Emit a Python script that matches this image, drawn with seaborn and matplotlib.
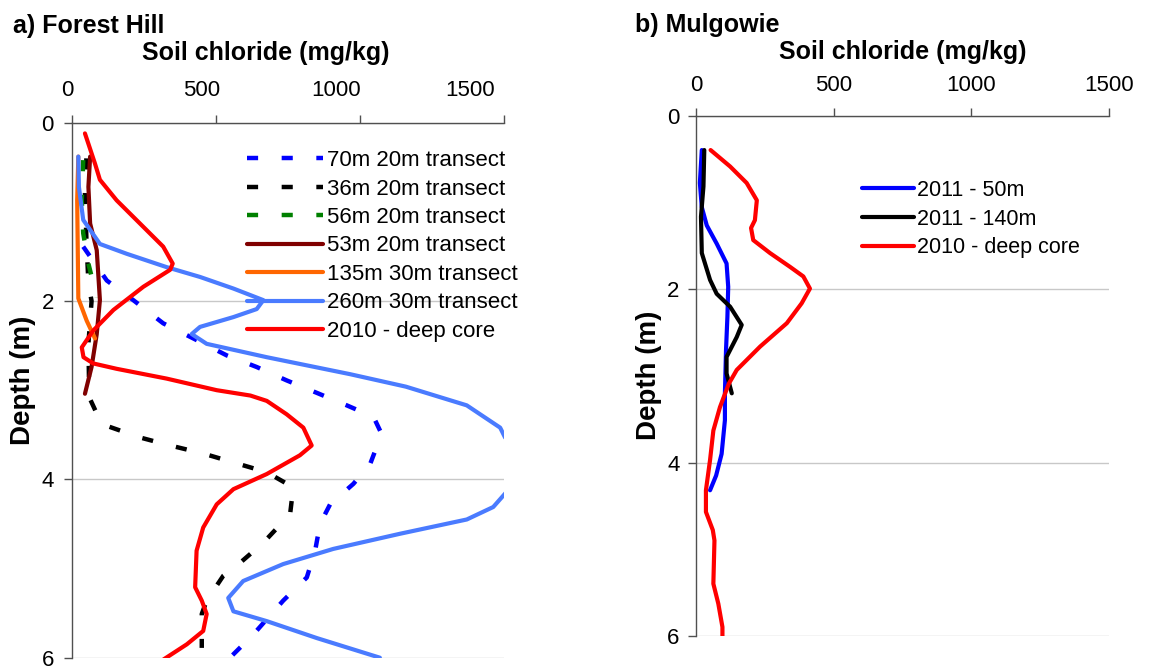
import numpy as np
import pandas as pd
import matplotlib.pyplot as plt
import seaborn as sns

sns.set_theme(style="white")
plt.rcParams['font.family'] = ['Liberation Sans', 'DejaVu Sans']
plt.rcParams['text.color'] = 'black'
plt.rcParams['xtick.color'] = 'black'
plt.rcParams['ytick.color'] = 'black'

# ---- a) Forest Hill: soil chloride (mg/kg) against depth (m) ----
fh_70m_depth = [1.39, 1.77, 1.99, 2.25, 2.42, 2.61, 2.74, 2.89, 3.03, 3.17, 3.30, 3.49, 3.83,
                4.05, 4.28, 4.50, 4.80, 5.10, 5.36, 5.74, 6.00]
fh_70m_cl = [39, 121, 213, 317, 422, 538, 642, 746, 851, 955, 1048, 1076, 1036,
             978, 897, 862, 845, 816, 734, 630, 549]

fh_36m_depth = [0.40, 0.79, 1.30, 1.80, 2.00, 2.48, 3.08, 3.38, 3.53, 3.62, 3.71, 3.81, 3.92,
                4.09, 4.39, 4.71, 4.97, 5.08, 5.36, 5.51, 5.89]
fh_36m_cl = [50, 45, 50, 57, 68, 57, 60, 103, 236, 341, 456, 561, 677,
             769, 758, 665, 572, 526, 468, 451, 451]

fh_56m_depth = [0.42, 0.87, 1.24, 1.58, 1.96]
fh_56m_cl = [39, 34, 39, 57, 86]

fh_53m_depth = [0.38, 0.72, 1.13, 1.43, 1.99, 2.37, 2.74, 3.04]
fh_53m_cl = [63, 57, 63, 86, 97, 86, 68, 45]

fh_135m_depth = [0.38, 0.87, 1.97, 2.22, 2.42]
fh_135m_cl = [22, 18, 22, 51, 80]

fh_260m_depth = [0.38, 0.72, 1.09, 1.36, 1.47, 1.62, 1.73, 1.86, 1.99, 2.09, 2.18, 2.29, 2.37,
                 2.48, 2.63, 2.82, 2.96, 3.17, 3.42, 3.53, 3.80, 4.16, 4.31, 4.45, 4.61, 4.78,
                 4.95, 5.14, 5.33, 5.48, 5.59, 5.78, 6.00]
fh_260m_cl = [22, 24, 39, 97, 190, 329, 445, 561, 665, 642, 561, 445, 416,
              468, 677, 966, 1160, 1372, 1488, 1505, 1600, 1505, 1464, 1372, 1140, 908,
              734, 595, 543, 561, 677, 851, 1070]

fh_2010_depth = [0.12, 0.46, 0.64, 0.87, 1.13, 1.39, 1.58, 1.65, 1.84, 2.10, 2.33, 2.52, 2.63,
                 2.70, 2.76, 2.87, 3.00, 3.06, 3.12, 3.27, 3.42, 3.62, 3.73, 3.94, 4.11, 4.28,
                 4.54, 4.80, 5.21, 5.36, 5.51, 5.70, 5.85, 6.02]
fh_2010_cl = [45, 80, 97, 155, 236, 317, 350, 341, 248, 144, 74, 34, 40,
              74, 155, 329, 503, 620, 677, 746, 804, 833, 792, 677, 561, 503,
              456, 433, 428, 451, 468, 456, 399, 318]

# ---- b) Mulgowie ----
mg_50m_depth = [0.39, 0.77, 1.05, 1.26, 1.47, 1.70, 1.97, 2.32, 2.70, 3.20, 3.51, 3.90, 4.15, 4.32]
mg_50m_cl = [20, 13, 20, 38, 74, 110, 116, 113, 108, 104, 104, 92, 72, 50]

mg_140m_depth = [0.39, 0.81, 1.16, 1.58, 1.89, 2.05, 2.20, 2.41, 2.55, 2.78, 2.97, 3.20]
mg_140m_cl = [29, 26, 17, 20, 50, 74, 123, 165, 147, 110, 110, 129]

mg_2010_depth = [0.39, 0.58, 0.77, 0.97, 1.20, 1.29, 1.43, 1.58, 1.74, 1.85, 1.99, 2.16, 2.39,
                 2.66, 2.93, 3.09, 3.36, 3.63, 3.97, 4.32, 4.57, 4.78, 4.90, 5.40, 5.63, 5.90, 6.02]
mg_2010_cl = [52, 123, 183, 220, 213, 199, 207, 268, 341, 389, 413, 383, 329,
              232, 147, 118, 86, 62, 50, 35, 35, 60, 66, 62, 80, 95, 95]

x_ticks = [0, 500, 1000, 1500]
y_ticks = [0, 2, 4, 6]

DASH = (0, (2.5, 5.3))

forest_series = [
    ('70m 20m transect', fh_70m_cl, fh_70m_depth, '#0000FF', DASH),
    ('36m 20m transect', fh_36m_cl, fh_36m_depth, '#000000', DASH),
    ('56m 20m transect', fh_56m_cl, fh_56m_depth, '#008000', DASH),
    ('53m 20m transect', fh_53m_cl, fh_53m_depth, '#800000', '-'),
    ('135m 30m transect', fh_135m_cl, fh_135m_depth, '#FF6600', '-'),
    ('260m 30m transect', fh_260m_cl, fh_260m_depth, '#4A7BFF', '-'),
    ('2010 - deep core', fh_2010_cl, fh_2010_depth, '#FF0000', '-'),
]
mulg_series = [
    ('2011 - 50m', mg_50m_cl, mg_50m_depth, '#0000FF', '-'),
    ('2011 - 140m', mg_140m_cl, mg_140m_depth, '#000000', '-'),
    ('2010 - deep core', mg_2010_cl, mg_2010_depth, '#FF0000', '-'),
]

W, H = 1161, 669
fig = plt.figure(figsize=(W / 100, H / 100), dpi=100)


def style_axes(ax, label_pad, show_xlabels=True):
    ax.set_xlim(0, 1500)
    ax.set_ylim(6, 0)
    ax.set_xticks(x_ticks)
    ax.set_yticks(y_ticks)
    ax.xaxis.tick_top()
    ax.tick_params(axis='x', top=True, bottom=False, labeltop=show_xlabels, labelbottom=False,
                   direction='out', length=5.5, width=1, color='#505050',
                   labelsize=16, pad=label_pad)
    ax.tick_params(axis='y', left=True, direction='out', length=5.5, width=1,
                   color='#505050', labelsize=16, pad=7.5)
    ax.set_xlabel('')
    ax.set_ylabel('')
    for side in ['bottom', 'right']:
        ax.spines[side].set_visible(False)
    for side in ['top', 'left']:
        ax.spines[side].set_color('#505050')
        ax.spines[side].set_linewidth(1)
    ax.yaxis.grid(True, color='#c8c8c8', lw=1)
    ax.xaxis.grid(False)


def draw(ax, series):
    for label, cl, depth, color, ls in series:
        sns.lineplot(x=cl, y=depth, sort=False, estimator=None, color=color,
                     linewidth=3.2 if ls != '-' else 3.0, linestyle=ls,
                     solid_joinstyle='round', dash_capstyle='butt',
                     label=label, ax=ax)


# left panel
ax1 = fig.add_axes([72 / W, 1 - 657.7 / H, 431.6 / W, 535 / H])
draw(ax1, forest_series)
style_axes(ax1, 8, show_xlabels=False)
ax1.legend(loc='upper left', bbox_to_anchor=(0.4055, 0.9487), frameon=False, fontsize=16,
           handlelength=3.4, handletextpad=0.2, labelspacing=0.335,
           borderpad=0, borderaxespad=0)

# the tick labels of panel a sit on a slightly narrower scale than its ticks
ax1_lab = fig.add_axes([67 / W, 1 - 657.7 / H, 403 / W, 535 / H])
ax1_lab.set_xlim(0, 1500)
ax1_lab.set_xticks(x_ticks)
ax1_lab.set_yticks([])
ax1_lab.xaxis.tick_top()
ax1_lab.tick_params(axis='x', length=0, labelsize=16, pad=15.3)
ax1_lab.patch.set_visible(False)
for s in ax1_lab.spines.values():
    s.set_visible(False)

# right panel
ax2 = fig.add_axes([696.3 / W, 1 - 635.7 / H, 412.7 / W, 519.4 / H])
draw(ax2, mulg_series)
style_axes(ax2, 8.8)
ax2.tick_params(axis='y', pad=6.5)
ax2.legend(loc='upper left', bbox_to_anchor=(0.4015, 0.8774), frameon=False, fontsize=15.5,
           handlelength=2.4, handletextpad=0.15, labelspacing=0.355,
           borderpad=0, borderaxespad=0)

# titles and axis labels
fig.text(13 / W, 1 - 33.3 / H, 'a) Forest Hill', fontsize=18, fontweight='bold', va='baseline')
fig.text(635 / W, 1 - 31.7 / H, 'b) Mulgowie', fontsize=18, fontweight='bold', va='baseline')
fig.text(266 / W, 1 - 60 / H, 'Soil chloride (mg/kg)', fontsize=18, fontweight='bold',
         ha='center', va='baseline')
fig.text(903 / W, 1 - 59.3 / H, 'Soil chloride (mg/kg)', fontsize=18, fontweight='bold',
         ha='center', va='baseline')
fig.text(22.5 / W, 1 - 380 / H, 'Depth (m)', fontsize=20, fontweight='bold',
         rotation=90, ha='center', va='center')
fig.text(649.5 / W, 1 - 375 / H, 'Depth (m)', fontsize=20, fontweight='bold',
         rotation=90, ha='center', va='center')

fig.savefig('out.png', dpi=100, facecolor='white')
